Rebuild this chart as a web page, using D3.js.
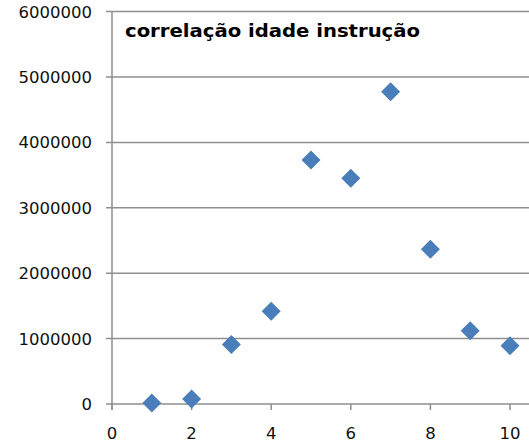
<!DOCTYPE html>
<html><head><meta charset="utf-8">
<script src="https://cdn.jsdelivr.net/npm/d3@7"></script>
<style>body{margin:0;background:#fff}svg{display:block}</style>
</head><body>
<script>
const title = "correlação idade instrução";
const xValues = [1, 2, 3, 4, 5, 6, 7, 8, 9, 10];
const yValues = [15000, 75000, 910000, 1420000, 3730000, 3450000, 4775000, 2365000, 1120000, 890000];
const xTicks = [0, 2, 4, 6, 8, 10];
const yTicks = [0, 1000000, 2000000, 3000000, 4000000, 5000000, 6000000];

const W = 529, H = 443;
const svg = d3.select("body").append("svg").attr("width", W).attr("height", H);
const x = d3.scaleLinear().domain([0, 10]).range([112, 510]);
const y = d3.scaleLinear().domain([0, 6000000]).range([404, 11.6]);
const font = "DejaVu Sans, Verdana, sans-serif";

// gridlines
svg.append("g").selectAll("line").data(yTicks).join("line")
  .attr("x1", 106).attr("x2", W).attr("y1", d => y(d)).attr("y2", d => y(d))
  .attr("stroke", "#8e8e8e").attr("stroke-width", 1.5);

// y axis line
svg.append("line").attr("x1", 112).attr("x2", 112).attr("y1", y(6000000)).attr("y2", 410)
  .attr("stroke", "#8e8e8e").attr("stroke-width", 1.5);

// x ticks
svg.append("g").selectAll("line").data(xTicks).join("line")
  .attr("x1", d => x(d)).attr("x2", d => x(d)).attr("y1", 404).attr("y2", 410)
  .attr("stroke", "#8e8e8e").attr("stroke-width", 1.5);

// y labels
svg.append("g").selectAll("text").data(yTicks).join("text")
  .attr("x", 92).attr("y", d => y(d)).attr("dy", "0.36em")
  .attr("text-anchor", "end").attr("font-family", font).attr("font-size", 16.5)
  .attr("fill", "#111").text(d => d3.format("d")(d));

// x labels
svg.append("g").selectAll("text").data(xTicks).join("text")
  .attr("x", d => x(d)).attr("y", 439)
  .attr("text-anchor", "middle").attr("font-family", font).attr("font-size", 16.5)
  .attr("fill", "#111").text(d => d);

// title
svg.append("text").attr("x", 125).attr("y", 37)
  .attr("font-family", font).attr("font-weight", "bold").attr("font-size", 18)
  .attr("textLength", 295).attr("lengthAdjust", "spacingAndGlyphs")
  .attr("fill", "#000").text(title);

// points
const data = xValues.map((d, i) => ({x: d, y: yValues[i]}));
svg.append("g").selectAll("path").data(data).join("path")
  .attr("d", d => {
    const cx = x(d.x), cy = y(d.y), r = 9.5;
    return `M${cx},${cy - r}L${cx + r},${cy}L${cx},${cy + r}L${cx - r},${cy}Z`;
  })
  .attr("fill", "#4a7ebb");
</script>
</body></html>
